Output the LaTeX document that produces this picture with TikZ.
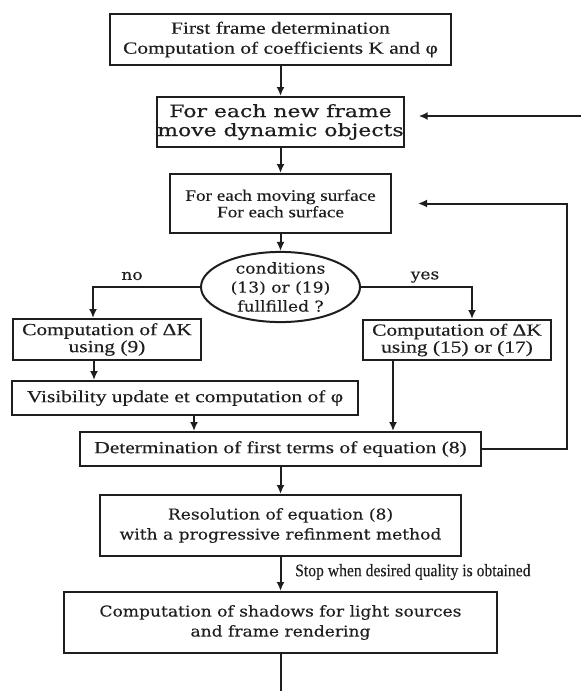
\documentclass[tikz,border=0pt]{standalone}
\usepackage{fontspec}
\usetikzlibrary{arrows.meta,shapes.geometric,calc}
\newfontfamily\tmsfont[FakeStretch=1.26,FakeBold=0.35]{Liberation Serif}
\newfontfamily\tmsnarrow[FakeStretch=1.2,FakeBold=0.35]{Liberation Serif}
\newfontfamily\schfont[FakeStretch=1.14,FakeBold=0.2]{DejaVu Serif}
\newfontfamily\schwide[FakeStretch=1.29,FakeBold=0.5]{DejaVu Serif}
\newfontfamily\condfont[FakeStretch=0.89,FakeBold=0.2]{Liberation Serif}
\definecolor{ink}{HTML}{1E1E1E}
\tikzset{
  box/.style={draw=ink, text=ink, line width=2pt, inner sep=0pt, align=center, rectangle},
  tms/.style={font=\tmsfont\fontsize{17}{20}\selectfont},
  tmsb/.style={font=\tmsfont\fontsize{17}{17}\selectfont},
  tmsn/.style={font=\tmsnarrow\fontsize{16}{16.5}\selectfont},
  sch/.style={font=\schfont\fontsize{15}{20}\selectfont},
  schc/.style={font=\schfont\fontsize{15}{19}\selectfont},
  schw/.style={font=\schwide\fontsize{17}{19}\selectfont},
  cond/.style={font=\condfont\fontsize{17.6}{20}\selectfont},
  arr/.style={draw=ink, line width=2pt, -{Latex[length=9pt,width=8pt]}},
  ln/.style={draw=ink, line width=2pt},
}
\begin{document}
\begin{tikzpicture}[x=1pt,y=-1pt]
\useasboundingbox (0,0) rectangle (581,691);
\node[box, tms, minimum width=341pt, minimum height=51pt] (b1) at (280.5,39.5)
  {First frame determination\\Computation of coefficients K and φ};
\node[box, schw, minimum width=229pt, minimum height=50pt] (b2) at (280.5,122)
  {For each new frame\\move dynamic objects};
\node[box, tmsn, minimum width=221pt, minimum height=59pt] (b3) at (280.5,203.5)
  {For each moving surface\\For each surface};
\node[draw=ink, text=ink, ellipse, line width=2pt, inner sep=0pt, align=center, schc,
  minimum width=159pt, minimum height=70pt] (c) at (280.5,287)
  {conditions\\(13) or (19)\\fullfilled ?};
\node[box, tmsb, minimum width=188pt, minimum height=41pt] (b4) at (107,339.5)
  {Computation of ΔK\\using (9)};
\node[box, tmsb, minimum width=188pt, minimum height=40pt] (b5) at (457,340)
  {Computation of ΔK\\using (15) or (17)};
\node[box, tms, minimum width=346pt, minimum height=34pt] (b6) at (185,398)
  {Visibility update et computation of φ};
\node[box, tms, minimum width=401pt, minimum height=34pt] (b7) at (280.5,449)
  {Determination of first terms of equation (8)};
\node[box, sch, minimum width=361pt, minimum height=61pt] (b8) at (280.5,525.5)
  {Resolution of equation (8)\\with a progressive refinment method};
\node[box, sch, minimum width=433pt, minimum height=61pt] (b9) at (280.5,622.5)
  {Computation of shadows for light sources\\and frame rendering};
\node[sch, text=ink, inner sep=0pt] (no) at (132,276) {no};
\node[sch, text=ink, inner sep=0pt] (yes) at (425,277) {yes};
\node[cond, text=ink, inner sep=0pt, anchor=west] (stop) at (295,572) {Stop when desired quality is obtained};
\coordinate (fbin) at (581,116);
\coordinate (loopR) at (567,449);
\coordinate (bottom) at (280.5,691);
\draw[arr] (b1.south) -- (b2.north);
\draw[arr] (fbin) -- ([xshift=14pt,yshift=6pt]b2.east);
\draw[arr] (b2.south) -- (b3.north);
\draw[arr] (b3.south) -- (c.north);
\draw[arr] (c.west) -| ([xshift=-14pt]b4.north);
\draw[arr] (c.east) -| ([xshift=15pt]b5.north);
\draw[arr] ([xshift=-13pt]b4.south) -- ([xshift=-13pt]b4.south |- b6.north);
\draw[arr] ([xshift=9pt]b6.south) -- ([xshift=9pt]b6.south |- b7.north);
\draw[arr] ([xshift=-64pt]b5.south) -- ([xshift=-64pt]b5.south |- b7.north);
\draw[arr] (b7.east) -- (loopR) |- ([xshift=26pt]b3.east);
\draw[arr] (b7.south) -- (b8.north);
\draw[arr] (b8.south) -- (b9.north);
\draw[ln] (b9.south) -- (bottom);
\end{tikzpicture}
\end{document}
